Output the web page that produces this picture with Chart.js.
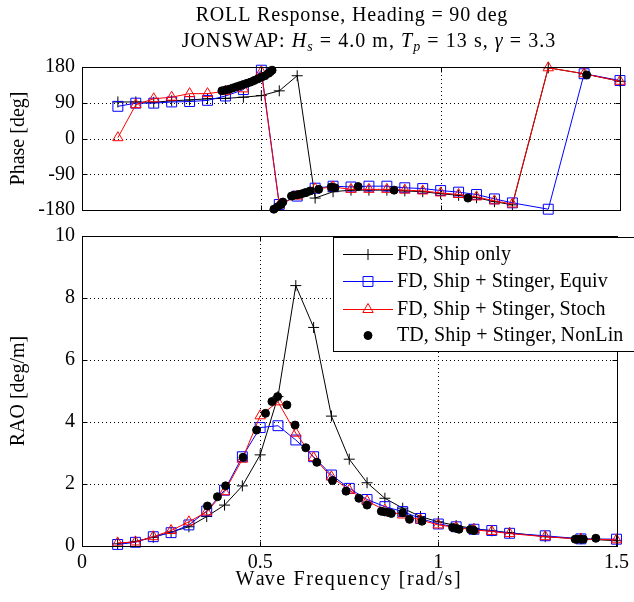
<!DOCTYPE html>
<html><head><meta charset="utf-8">
<script src="https://cdn.jsdelivr.net/npm/chart.js@4"></script>
<style>
html,body{margin:0;padding:0;background:#fff;}
#wrap{position:relative;width:634px;height:602px;overflow:hidden;background:#fff;}
#c1{position:absolute;left:0;top:0;}
#c2{position:absolute;left:0;top:213px;}
</style></head><body>
<div id="wrap"><canvas id="c1" width="634" height="232"></canvas><canvas id="c2" width="634" height="389"></canvas></div>
<script>
// ---------- data ----------
const freq = [0.1,0.15,0.2,0.25,0.3,0.35,0.4,0.45,0.5,0.55,0.6,0.65,0.7,0.75,0.8,0.85,0.9,0.95,1.0,1.05,1.1,1.15,1.2,1.3,1.4,1.5];

const shipOnlyPhase = [92,92,91,95,97,100,101,104,108,120,158,-150,-134,-130,-130,-130,-132,-134,-139,-143,-149,-159,-167,178,163,144];
const equivPhase    = [81,89,89,92,93,96,107,123,172,-166,-145,-125,-120,-122,-120,-120,-124,-126,-131,-135,-141,-152,-162,-178,163,146];
const stochPhase    = [2,85,100,104,113,113,119,125,168,-167,-145,-127,-122,-128,-128,-128,-130,-132,-137,-141,-147,-157,-165,178,163,144];

const shipOnlyRao = [0.07,0.15,0.28,0.45,0.62,0.95,1.32,1.94,2.94,4.82,8.4,7.05,4.19,2.8,2.04,1.54,1.22,0.95,0.78,0.66,0.56,0.49,0.43,0.3,0.23,0.17];
const equivRao    = [0.05,0.12,0.3,0.43,0.68,1.13,1.8,2.88,3.82,3.88,3.42,2.88,2.29,1.86,1.5,1.27,1.11,0.89,0.71,0.62,0.54,0.5,0.41,0.33,0.23,0.22];
const stochRao    = [0.1,0.13,0.3,0.5,0.78,1.1,1.75,2.8,4.2,4.65,3.64,2.85,2.23,1.8,1.45,1.16,1.0,0.84,0.68,0.6,0.52,0.47,0.4,0.3,0.22,0.2];

const tdPhaseFreq = [0.39,0.40,0.41,0.42,0.43,0.44,0.45,0.46,0.47,0.48,0.49,0.50,0.51,0.52,0.525,0.53,0.535,0.545,0.555,0.56,0.584,0.59,0.6,0.61,0.62,0.625,0.636,0.66,0.695,0.705,0.77,0.87,1.076,1.407];
const tdPhase     = [120,122,124,127,130,133,136,139,142,146,150,154,158,164,168,172,-178,-172,-166,-160,-145,-143,-142,-140,-137,-136,-132,-128,-122,-124,-121,-130,-150,160];

const tdRaoFreq = [0.352,0.38,0.403,0.452,0.49,0.515,0.533,0.549,0.575,0.598,0.628,0.659,0.703,0.741,0.777,0.80,0.84,0.85,0.86,0.868,0.9,0.919,0.954,1.04,1.05,1.058,1.09,1.096,1.1,1.384,1.39,1.4,1.407,1.442];
const tdRao     = [1.29,1.59,1.94,2.86,3.74,4.28,4.66,4.82,4.55,3.9,3.17,2.7,2.11,1.77,1.54,1.32,1.12,1.1,1.08,1.05,1.07,0.86,0.8,0.6,0.57,0.54,0.53,0.52,0.5,0.22,0.22,0.22,0.22,0.25];

const seriesNames = ['FD, Ship only','FD, Ship + Stinger, Equiv','FD, Ship + Stinger, Stoch','TD, Ship + Stinger, NonLin'];
const xTicks = [0,0.5,1,1.5];
const phaseTicks = [-180,-90,0,90,180];
const raoTicks = [0,2,4,6,8,10];

// ---------- helpers ----------
const FONT = '"Liberation Serif", "Times New Roman", serif';
const FS = 20;
const zip = (xs, ys) => xs.map((x,i)=>({x, y: ys[i]}));

const styles = [
  {borderColor:'#000', backgroundColor:'#000', pointStyle:'cross', pointRadius:5.5, pointBorderWidth:1, borderWidth:1, showLine:true, order:3},
  {borderColor:'#0000ff', backgroundColor:'rgba(0,0,0,0)', pointStyle:'rect', pointRadius:7, pointBorderWidth:1, borderWidth:1, showLine:true, order:2},
  {borderColor:'#ff0000', backgroundColor:'rgba(0,0,0,0)', pointStyle:'triangle', pointRadius:6, pointBorderWidth:1, borderWidth:1, showLine:true, order:1},
  {borderColor:'#000', backgroundColor:'#000', pointStyle:'circle', pointRadius:4, pointBorderWidth:1, borderWidth:1, showLine:false, order:0}
];

function makeDatasets(ys, tdX, tdY){
  const arr = [zip(freq, ys[0]), zip(freq, ys[1]), zip(freq, ys[2]), zip(tdX, tdY)];
  return arr.map((d,i)=>Object.assign({label: seriesNames[i], data: d, clip:false, pointHoverRadius: styles[i].pointRadius}, styles[i]));
}

// draws text with manual letter spacing (char by char)
function spacedText(ctx, text, x, y, opts){
  ctx.save();
  ctx.font = opts.font;
  ctx.fillStyle = '#000';
  ctx.textBaseline = opts.baseline || 'middle';
  ctx.textAlign = 'left';
  ctx.translate(x, y);
  if (opts.rotate) ctx.rotate(opts.rotate);
  const sp = opts.spacing || 0;
  const chars = Array.from(text);
  const full = ctx.measureText(text).width + sp*(chars.length-1);
  let sx = opts.align === 'center' ? -full/2 : 0;
  if (!sp){ ctx.fillText(text, sx, 0); }
  else {
    for (let i=0;i<chars.length;i++){
      const pre = ctx.measureText(chars.slice(0,i).join('')).width;
      ctx.fillText(chars[i], sx + pre + sp*i, 0);
    }
  }
  ctx.restore();
}

function gridBoxPlugin(xT, yT){
  return {
    id:'gridbox',
    beforeDatasetsDraw(chart){
      const {ctx, chartArea:a, scales} = chart;
      ctx.save();
      ctx.strokeStyle = '#000'; ctx.lineWidth = 1; ctx.setLineDash([1,3]);
      xT.forEach(v=>{ const px = Math.round(scales.x.getPixelForValue(v))+0.5;
        if (px > a.left+1 && px < a.right-1){ ctx.beginPath(); ctx.moveTo(px, a.top); ctx.lineTo(px, a.bottom); ctx.stroke(); } });
      yT.forEach(v=>{ const py = Math.round(scales.y.getPixelForValue(v))+0.5;
        if (py > a.top+1 && py < a.bottom-1){ ctx.beginPath(); ctx.moveTo(a.left, py); ctx.lineTo(a.right, py); ctx.stroke(); } });
      ctx.restore();
    },
    afterDatasetsDraw(chart){
      const {ctx, chartArea:a, scales} = chart;
      ctx.save();
      ctx.strokeStyle = '#000'; ctx.lineWidth = 1; ctx.setLineDash([]);
      const L = Math.round(a.left)+0.5, R = Math.round(a.right)+0.5, T = Math.round(a.top)+0.5, B = Math.round(a.bottom)+0.5;
      ctx.strokeRect(L, T, R-L, B-T);
      const tl = 5;
      xT.forEach(v=>{ const px = Math.round(scales.x.getPixelForValue(v))+0.5;
        ctx.beginPath(); ctx.moveTo(px, B); ctx.lineTo(px, B-tl); ctx.moveTo(px, T); ctx.lineTo(px, T+tl); ctx.stroke(); });
      yT.forEach(v=>{ const py = Math.round(scales.y.getPixelForValue(v))+0.5;
        ctx.beginPath(); ctx.moveTo(L, py); ctx.lineTo(L+tl, py); ctx.moveTo(R, py); ctx.lineTo(R-tl, py); ctx.stroke(); });
      ctx.restore();
    }
  };
}

const titlePlugin = {
  id:'mtitle',
  afterDraw(chart){
    const ctx = chart.ctx;
    const a = chart.chartArea;
    spacedText(ctx, 'ROLL Response, Heading = 90 deg', 351.5, 21, {font: FS+'px '+FONT, spacing:0.83, align:'center', baseline:'alphabetic'});
    ctx.save();
    ctx.fillStyle = '#000';
    ctx.textBaseline = 'alphabetic';
    const SP = 1.05;
    const segs = [
      {t:'JONSWAP: ', f:FS+'px '+FONT, dy:0},
      {t:'H', f:'italic '+FS+'px '+FONT, dy:0},
      {t:'s', f:'italic 14px '+FONT, dy:4},
      {t:' = 4.0 m, ', f:FS+'px '+FONT, dy:0},
      {t:'T', f:'italic '+FS+'px '+FONT, dy:0},
      {t:'p', f:'italic 14px '+FONT, dy:4},
      {t:' = 13 s, ', f:FS+'px '+FONT, dy:0},
      {t:'\u03B3', f:'italic '+FS+'px '+FONT, dy:0},
      {t:' = 3.3', f:FS+'px '+FONT, dy:0}
    ];
    // lay out character by character with extra spacing
    let items = [];
    segs.forEach(s=>{ ctx.font = s.f; Array.from(s.t).forEach((c,k)=>{
      const pre = ctx.measureText(s.t.slice(0,k)).width;
      const preNext = ctx.measureText(s.t.slice(0,k+1)).width;
      items.push({c, f:s.f, dy:s.dy, adv: preNext - pre});
    }); });
    let w = items.reduce((acc,it)=>acc+it.adv, 0) + SP*(items.length-1);
    let x = 368.5 - w/2;
    ctx.textAlign = 'left';
    items.forEach(it=>{ ctx.font = it.f; ctx.fillText(it.c, x, 47 + it.dy); x += it.adv + SP; });
    ctx.restore();
    spacedText(ctx, 'Phase [deg]', 19, (a.top+a.bottom)/2, {font: FS+'px '+FONT, spacing:0, align:'center', baseline:'middle', rotate:-Math.PI/2});
  }
};

const LEG_TOP = 24; // canvas-2 coordinates
const legendPlugin = {
  id:'mlegend',
  afterDraw(chart){
    const ctx = chart.ctx;
    const a = chart.chartArea;
    spacedText(ctx, 'RAO [deg/m]', 19, (a.top+a.bottom)/2, {font: FS+'px '+FONT, spacing:0, align:'center', baseline:'middle', rotate:-Math.PI/2});
    spacedText(ctx, 'Wave Frequency [rad/s]', 348, a.bottom + 34, {font: FS+'px '+FONT, spacing:1.6, align:'center', baseline:'middle'});
    ctx.save();
    const bx = 333.5, by = LEG_TOP + 0.5, bw = 320, bh = 114;
    ctx.fillStyle = '#fff'; ctx.fillRect(bx, by, bw, bh);
    ctx.strokeStyle = '#000'; ctx.lineWidth = 1; ctx.strokeRect(bx, by, bw, bh);
    const rows = [17, 44, 72, 98].map(v=>v+LEG_TOP);
    chart.data.datasets.forEach((ds, i)=>{
      const y = rows[i];
      ctx.strokeStyle = ds.borderColor; ctx.fillStyle = ds.backgroundColor; ctx.lineWidth = 1;
      if (ds.showLine){ ctx.beginPath(); ctx.moveTo(343, y+0.5); ctx.lineTo(393, y+0.5); ctx.stroke(); }
      Chart.helpers.drawPoint(ctx, {pointStyle: ds.pointStyle, radius: ds.pointRadius, rotation:0, borderWidth:1}, 368, y+0.5);
      spacedText(ctx, ds.label, 397, y+1, {font: FS+'px '+FONT, spacing:0.1, align:'left', baseline:'middle'});
    });
    ctx.restore();
  }
};

Chart.defaults.font.family = FONT;
Chart.defaults.color = '#000';

function baseOptions(yMin, yMax, yT, padTop, xHeight, showXTicks){
  return {
    responsive:false, animation:false, devicePixelRatio:1,
    layout:{padding:{top:padTop, right:14, left:0, bottom:0}},
    plugins:{legend:{display:false}, tooltip:{enabled:false}, title:{display:false}},
    events:[],
    scales:{
      x:{type:'linear', min:0, max:1.5,
         grid:{display:false, drawTicks:false}, border:{display:false},
         afterBuildTicks:(s)=>{ s.ticks = xTicks.map(v=>({value:v})); },
         ticks:{display:showXTicks, padding:5, font:{size:FS, family:FONT}, color:'#000', callback:(v)=>String(v), maxRotation:0, autoSkip:false},
         afterFit:(s)=>{ s.height = xHeight; }
      },
      y:{type:'linear', min:yMin, max:yMax,
         grid:{display:false, drawTicks:false}, border:{display:false},
         afterBuildTicks:(s)=>{ s.ticks = yT.map(v=>({value:v})); },
         ticks:{padding:7, font:{size:FS, family:FONT}, color:'#000', callback:(v)=>String(v), autoSkip:false},
         afterFit:(s)=>{ s.width = 82; }
      }
    }
  };
}

new Chart(document.getElementById('c1'), {
  type:'scatter',
  data:{datasets: makeDatasets([shipOnlyPhase, equivPhase, stochPhase], tdPhaseFreq, tdPhase)},
  options: baseOptions(-180, 180, phaseTicks, 67, 22, false),
  plugins:[gridBoxPlugin(xTicks, phaseTicks), titlePlugin]
});

new Chart(document.getElementById('c2'), {
  type:'scatter',
  data:{datasets: makeDatasets([shipOnlyRao, equivRao, stochRao], tdRaoFreq, tdRao)},
  options: baseOptions(0, 10, raoTicks, 23, 56, true),
  plugins:[gridBoxPlugin(xTicks, raoTicks), legendPlugin]
});
</script>
</body></html>
